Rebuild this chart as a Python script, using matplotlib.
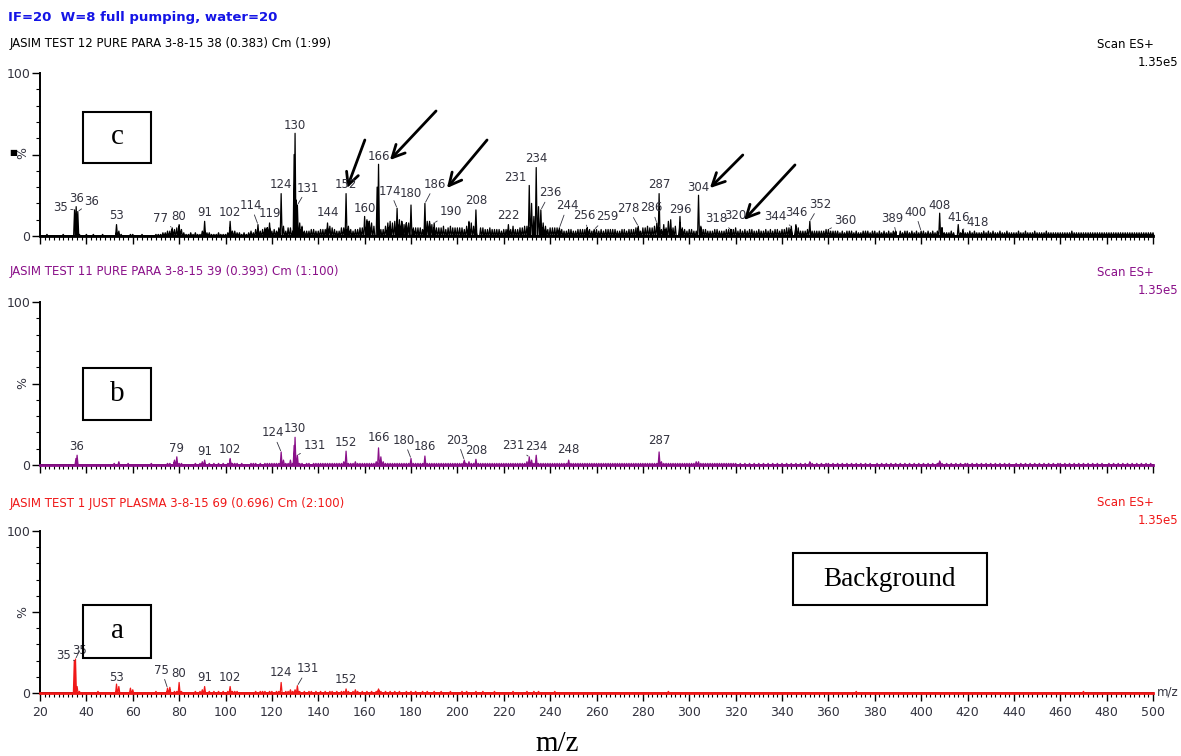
import matplotlib
matplotlib.use("Agg")
import matplotlib.pyplot as plt
from matplotlib.patches import Rectangle
from matplotlib.ticker import MultipleLocator
from matplotlib import font_manager

W, H = 1181, 756

# ---------------- text ----------------
title = "IF=20  W=8 full pumping, water=20"
header_c = "JASIM TEST 12 PURE PARA 3-8-15 38 (0.383) Cm (1:99)"
header_b = "JASIM TEST 11 PURE PARA 3-8-15 39 (0.393) Cm (1:100)"
header_a = "JASIM TEST 1 JUST PLASMA 3-8-15 69 (0.696) Cm (2:100)"
scan_mode = "Scan ES+"
scan_max = "1.35e5"

# ---------------- spectrum c (pure para, top) ----------------
c_mz = [34.9, 35.6, 36.3, 53, 77, 80, 91, 102, 114, 119, 124, 130, 131,
        144, 152, 160, 166, 174, 180, 186, 190, 208, 222, 231, 234, 236,
        244, 256, 259, 278, 286, 287, 296, 304, 318, 320, 344, 346, 352,
        360, 389, 400, 408, 416, 418]
c_int = [16, 18, 15, 7, 5, 7, 9, 9, 7, 8, 26, 63, 19,
         8, 26, 12, 44, 17, 19, 20, 8, 16, 7, 31, 42, 16,
         5, 5, 4, 6, 8, 26, 12, 25, 4, 5, 6, 7, 9,
         4, 3, 3, 14, 7, 4]
c_extra_mz = [117, 118, 123, 125, 129.6, 130.5, 132, 133, 153, 161, 162,
              165.4, 170, 171, 175, 176, 178, 181, 188, 205, 232, 233,
              235, 237, 238, 289, 290, 292, 297, 305, 409]
c_extra_int = [5, 5, 5, 6, 50, 22, 8, 6, 6, 10, 9,
               30, 8, 9, 10, 9, 8, 5, 9, 9, 20, 12,
               18, 8, 6, 7, 5, 10, 5, 6, 5]
# small peaks at every unit mass from m/z 20 to 500, in %
c_grass = "".join([
    "00010000001000000100", "10010001000002310001", "10001000001112233445",
    "64211212113322111211", "12533221212324434455", "34340035533445333443",
    "34445654335544434455", "09986004465689979788", "04555469875555645655",
    "55546886405544544443", "44446445566505006544", "55554433443344445433",
    "43434444433443444553", "55655605444945608443", "44330544333443334444",
    "03434344334334343443", "44554065333403333334", "03333232333232233323",
    "32323232330323323232", "03232323052223200232", "23232223232322322322",
    "22322322232222322222", "22222322222222222222", "22222222222222222222",
    "2"])

# ---------------- spectrum b (pure para, middle) ----------------
b_mz = [36, 79, 91, 102, 124, 130, 131, 152, 166, 180, 186, 203, 208,
        231, 234, 248, 287]
b_int = [6, 5, 3, 4, 8, 17, 6, 8.5, 10.5, 4, 5.5, 3, 3.5, 5, 6, 3, 8]
b_extra_mz = [35.5, 54, 78, 90, 125, 129.6, 167, 232, 304, 352, 408]
b_extra_int = [4, 2, 3, 2, 3, 12, 5, 3, 2, 1.5, 2.5]
b_grass = "".join([
    "00000000000000001000", "00000000000010000010", "00000000100000011022",
    "11000001011101010101", "01311101000111010111", "11112011311111011011",
    "11111111111211112111", "11111211211111111111", "11111111111111111111",
    "11121211111111111111", "11111111112111111111", "11111111111111111111",
    "11111111111111111111", "11111112211111111111", "11120111111111111111",
    "10101010101010101010", "10101010101021010101", "10101010101010101010",
    "01010101010101010101", "01010101210101010101", "10101010101010101010",
    "01010101010101010101", "10101010101010101010", "01010101010101010101",
    "0"])

# ---------------- spectrum a (plasma background, bottom) ----------------
a_mz = [34.8, 35.3, 53, 75, 80, 91, 102, 124, 131, 152]
a_int = [20, 21, 5.5, 3, 6.5, 4, 4, 6.5, 4.5, 2.5]
a_extra_mz = [36, 54, 76, 130, 166]
a_extra_int = [4, 4, 3.5, 2, 2.5]
a_grass = "".join([
    "00000000000000000100", "00000100000001000003", "20000000001000012011",
    "21000001012101010101", "01211100000001011101", "10110011211110101101",
    "01010110101101012101", "01010121010101010010", "10100101001001000100",
    "00101000100100001000", "00001000001001010000", "00100000000000000000",
    "00000000000000000000", "00000000000100000000", "00000000000000000000",
    "00000000000000000000", "00000000000000000000", "00000000000010000000",
    "00000000000000000000", "00000000000000000000", "00000000000000000000",
    "00000000000000000000", "00000000001000000000", "00000000000000000000",
    "0"])

# label offsets in pixels (text centre relative to the peak top)
c_dx = [-14, 0, 14, 0, -12, 0, 0, 0, -7, 0, 0, 0, 10, 0, 0, 0, 0, -7, 0, 10,
        17, 0, 0, -14, 0, 9, 8, -3, 13, -10, -5, 0, 0, 0, -15, 0, -16, 0, 10,
        17, -3, -6, 0, 0, 15]
c_dy = [2, 8, 10, 9, 9, 8, 9, 9, 19, 9, 9, 8, 17, 10, 9, 8, 8, 17, 12, 19,
        11, 9, 9, 8, 9, 17, 22, 12, 13, 18, 15, 9, 7, 8, 11, 12, 10, 12, 17,
        9, 13, 19, 8, 7, 7]
b_dx = [0, 0, 0, 0, -8, 0, 17, 0, 0, -7, 0, -7, 0, -16, 0, 0, 0]
b_dy = [9, 8, 9, 9, 19, 9, 10, 9, 10, 18, 10, 20, 9, 11, 9, 11, 11]
a_dx = [-11, 4, 0, -6, 0, 0, 0, 0, 10, 0]
a_dy = [5, 8, 7, 18, 9, 9.5, 9.5, 10, 17, 9]

# hand drawn arrows on spectrum c: (tail, head) in m/z, %
c_arrows = [((160.1, 58.9), (152.4, 29.4)),
            ((190.8, 76.7), (170.9, 46.6)),
            ((212.8, 58.9), (195.5, 29.4)),
            ((323.1, 49.7), (308.9, 29.4)),
            ((345.6, 43.6), (323.6, 9.8))]

narrow = "Liberation Sans"
if any("Narrow" in f.name for f in font_manager.fontManager.ttflist):
    narrow = "Liberation Sans Narrow"
serif = "Liberation Serif"
text_grey = "#33333f"
purple = "#8a1089"
red = "#f01818"
peak_fs = 8.5


def fx(px):
    return px / W


def fy(py):
    return 1 - py / H


def grass_peaks(s, start=20):
    return [start + i for i in range(len(s))], [int(ch) for ch in s]


def profile(mz, inten, hw=0.4):
    # turn stick peaks into a thin triangular trace
    xs, ys = [], []
    for m, v in sorted(zip(mz, inten)):
        if v <= 0:
            continue
        xs += [m - hw, m, m + hw]
        ys += [0, v, 0]
    return xs, ys


def make_axes(top_px, bottom_px, show_xlabels):
    ax = fig.add_axes([fx(40), fy(bottom_px), fx(1153) - fx(40),
                       fy(top_px) - fy(bottom_px)])
    ax.set_xlim(20, 500)
    ax.set_ylim(0, 100)
    for side in ("top", "right"):
        ax.spines[side].set_visible(False)
    for side in ("left", "bottom"):
        ax.spines[side].set_linewidth(1.4)
    ax.xaxis.set_major_locator(MultipleLocator(20))
    ax.xaxis.set_minor_locator(MultipleLocator(2))
    ax.set_yticks([0, 50, 100])
    ax.set_yticklabels(["0", "", "100"])
    ax.yaxis.set_minor_locator(MultipleLocator(10))
    ax.tick_params(which="major", length=6, width=1, color="black",
                   labelsize=9, labelcolor=text_grey, pad=1)
    ax.tick_params(which="minor", length=3, width=0.8, color="black")
    ax.tick_params(axis="x", labelbottom=show_xlabels, pad=3)
    for lab in ax.get_xticklabels() + ax.get_yticklabels():
        lab.set_family(narrow)
    ax.patch.set_alpha(0)
    return ax


def draw_spectrum(ax, color, mz, inten, extra_mz, extra_int, grass, dxs, dys):
    gm, gi = grass_peaks(grass)
    xs, ys = profile(gm + extra_mz + mz, gi + extra_int + inten)
    ax.plot(xs, ys, color=color, lw=0.9, clip_on=False, zorder=3)
    ax.plot([20, 500], [0, 0], color=color, lw=2.0, clip_on=False, zorder=3)
    for m, v, dx, dy in zip(mz, inten, dxs, dys):
        leader = None
        if dx != 0 or dy > 12:
            leader = dict(arrowstyle="-", color=text_grey, lw=0.6,
                          shrinkA=0, shrinkB=1)
        ax.annotate(str(round(m)), xy=(m, v), xytext=(dx, dy),
                    textcoords="offset pixels", ha="center", va="center",
                    fontsize=peak_fs, color=text_grey, family=narrow,
                    arrowprops=leader, zorder=4)


def label_box(x0, y0, x1, y1, text, size):
    fig.add_artist(Rectangle((fx(x0), fy(y1)), fx(x1) - fx(x0),
                             fy(y0) - fy(y1), transform=fig.transFigure,
                             fill=False, lw=1.5, ec="black"))
    fig.text(fx((x0 + x1) / 2), fy((y0 + y1) / 2), text, ha="center",
             va="center", fontsize=size, family=serif)


fig = plt.figure(figsize=(W / 100, H / 100), dpi=100)

ax_c = make_axes(73, 236, False)
ax_b = make_axes(302, 465, False)
ax_a = make_axes(531, 693, True)

draw_spectrum(ax_c, "black", c_mz, c_int, c_extra_mz, c_extra_int,
              c_grass, c_dx, c_dy)
draw_spectrum(ax_b, purple, b_mz, b_int, b_extra_mz, b_extra_int,
              b_grass, b_dx, b_dy)
draw_spectrum(ax_a, red, a_mz, a_int, a_extra_mz, a_extra_int,
              a_grass, a_dx, a_dy)

for tail, head in c_arrows:
    ax_c.annotate("", xy=head, xytext=tail,
                  arrowprops=dict(arrowstyle="->,head_length=0.9,head_width=0.45",
                                  lw=2, color="black", shrinkA=0, shrinkB=0))

# headers and scan info
fig.text(fx(8), fy(18), title, fontsize=9.5, fontweight="bold", color="#1414e6",
         family=narrow, va="center")
for y, txt, col in [(44, header_c, "black"), (272, header_b, purple),
                    (503, header_a, red)]:
    fig.text(fx(10), fy(y), txt, fontsize=8.5, color=col, family=narrow,
             va="center")
    fig.text(fx(1154), fy(y), scan_mode, fontsize=8.5, color=col,
             family=narrow, va="center", ha="right")
    fig.text(fx(1178), fy(y + 18), scan_max, fontsize=8.5, color=col,
             family=narrow, va="center", ha="right")

# y axis "%" labels
for y in (153, 383, 612):
    fig.text(fx(23), fy(y), "%", rotation=90, fontsize=9, color=text_grey,
             family=narrow, ha="center", va="center")
fig.text(fx(13), fy(153), "\u25a0", fontsize=6, color="black",
         ha="center", va="center")

# sample boxes
label_box(83, 112, 151, 163, "c", 21)
label_box(83, 368, 151, 420, "b", 21)
label_box(83, 605, 151, 658, "a", 21)
label_box(793, 553, 987, 605, "Background", 19.5)

fig.text(fx(1157), fy(692), "m/z", fontsize=8.5, color=text_grey,
         family=narrow, va="center")
fig.text(fx(557), fy(744), "m/z", fontsize=21, family=serif,
         ha="center", va="center")

fig.savefig("out.png", dpi=100)
